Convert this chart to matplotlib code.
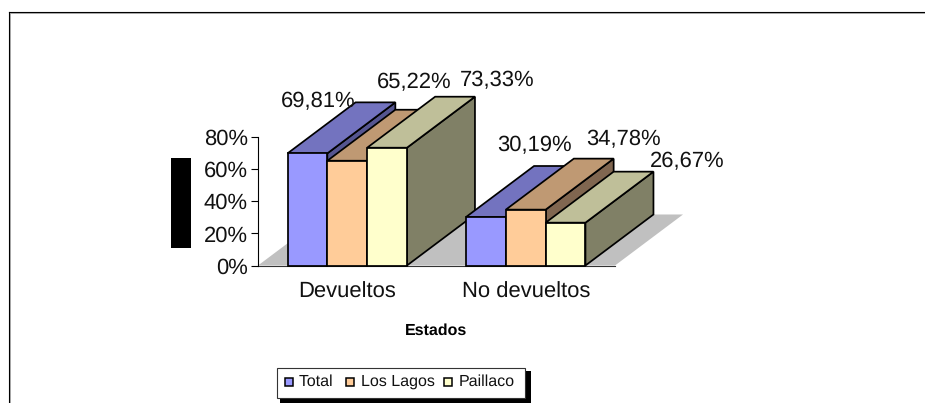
#3D style clustered bars drawn by hand with polygons
import matplotlib
matplotlib.use("Agg")
import matplotlib.pyplot as plt
from matplotlib.patches import Polygon, Rectangle

plt.rcParams['font.family'] = ['Liberation Sans', 'DejaVu Sans']
plt.rcParams['text.hinting'] = 'none'
plt.rcParams['text.hinting_factor'] = 1

#Data
categories = ["Devueltos", "No devueltos"]
series = ["Total", "Los Lagos", "Paillaco"]
total = [69.81, 30.19]
los_lagos = [65.22, 34.78]
paillaco = [73.33, 26.67]
yticks = [0, 20, 40, 60, 80]

values = [total, los_lagos, paillaco]
front_cols = ["#9999FF", "#FFCC99", "#FFFFCC"]
top_cols = ["#7373BF", "#BF9973", "#BFBF99"]
side_cols = ["#555590", "#806650", "#808066"]

#Label offsets from the front top corner of each bar (pixels)
label_offsets = [[(31, 52), (87, 78), (130, 67)],
                 [(68, 72), (118, 70), (142, 61)]]

W, H = 925, 403
fig = plt.figure(figsize=(W / 100, H / 100), dpi=100)

#Axes area is the front plane of the chart
x0, x1, y0, y1 = 258, 615, 265.5, 137
ax = fig.add_axes([x0 / W, 1 - y0 / H, (x1 - x0) / W, (y0 - y1) / H])
ax.set_xlim(0, 2)
ax.set_ylim(0, 80)
ax.patch.set_visible(False)

#Depth of the box and bar width in data units
depth_x = 68 / 178.5
depth_y = 51 / 1.606
bar_w = 0.223

#Floor
ax.add_patch(Polygon([(0, 0), (depth_x, depth_y), (2 + depth_x, depth_y), (2, 0)],
                     closed=True, fc="#C0C0C0", ec="none", clip_on=False, zorder=1))

#Bars, painted left to right
z = 2
for g in range(len(categories)):
    for s in range(len(series)):
        v = values[s][g]
        left = g + 0.5 + (s - 1.5) * bar_w
        right = left + bar_w
        side = [(right, 0), (right + depth_x, depth_y), (right + depth_x, v + depth_y), (right, v)]
        top = [(left, v), (left + depth_x, v + depth_y), (right + depth_x, v + depth_y), (right, v)]
        front = [(left, 0), (right, 0), (right, v), (left, v)]
        for pts, col in [(side, side_cols[s]), (top, top_cols[s]), (front, front_cols[s])]:
            ax.add_patch(Polygon(pts, closed=True, fc=col, ec="black", lw=1.25,
                                 joinstyle="miter", clip_on=False, zorder=z))
            z += 1
        ax.annotate(("%.2f" % v).replace(".", ",") + "%",
                    xy=(left, v), xytext=label_offsets[g][s], textcoords="offset pixels",
                    ha="center", va="center", fontsize=15.8, color="#111111",
                    annotation_clip=False, zorder=50)

#Axes, only the left line and zero line
for name in ["top", "right", "bottom"]:
    ax.spines[name].set_visible(False)
ax.spines["left"].set_linewidth(0.8)
ax.axhline(0, color="#333333", lw=0.8, zorder=1.5, clip_on=False)
ax.set_yticks(yticks)
ax.set_yticklabels([str(t) + "%" for t in yticks], fontsize=15.8, color="#111111")
ax.tick_params(axis="y", length=5, width=0.8, pad=2.5)
ax.set_xticks([0.5, 1.5])
ax.set_xticklabels(categories, fontsize=15.8, color="#111111")
ax.tick_params(axis="x", length=0, pad=12)
ax.set_xlabel("Estados", fontsize=11.5, fontweight="bold", labelpad=15)

#Full figure overlay for frame, black block and legend, in pixels
over = fig.add_axes([0, 0, 1, 1], zorder=-1)
over.set_xlim(0, W)
over.set_ylim(H, 0)
over.axis("off")
over.plot([9.5, 9.5], [403, 12.5], color="#B0B0B0", lw=0.72)
over.plot([9.5, 925], [12.5, 12.5], color="#B0B0B0", lw=0.72)
over.plot([8.5, 8.5], [403, 11.5], color="black", lw=0.8)
over.plot([8.5, 925], [11.5, 11.5], color="black", lw=0.8)
over.add_patch(Rectangle((171, 158), 20, 90, fc="black", ec="none"))

leg_ax = fig.add_axes([0, 0, 1, 1], zorder=5)
leg_ax.set_xlim(0, W)
leg_ax.set_ylim(H, 0)
leg_ax.axis("off")
leg_ax.add_patch(Rectangle((280, 371), 251, 32, fc="black", ec="none"))
leg_ax.add_patch(Rectangle((277, 367.5), 248, 30.5, fc="white", ec="#333333", lw=0.8))
for name, sx, tx, col in zip(series, [284.5, 346, 443.5], [299, 361, 459], front_cols):
    leg_ax.add_patch(Rectangle((sx, 377.5), 8, 8, fc=col, ec="black", lw=1.1))
    leg_ax.text(tx, 381.5, name, fontsize=11.4, color="#111111", va="center", ha="left")

fig.savefig("out.png", dpi=100)
